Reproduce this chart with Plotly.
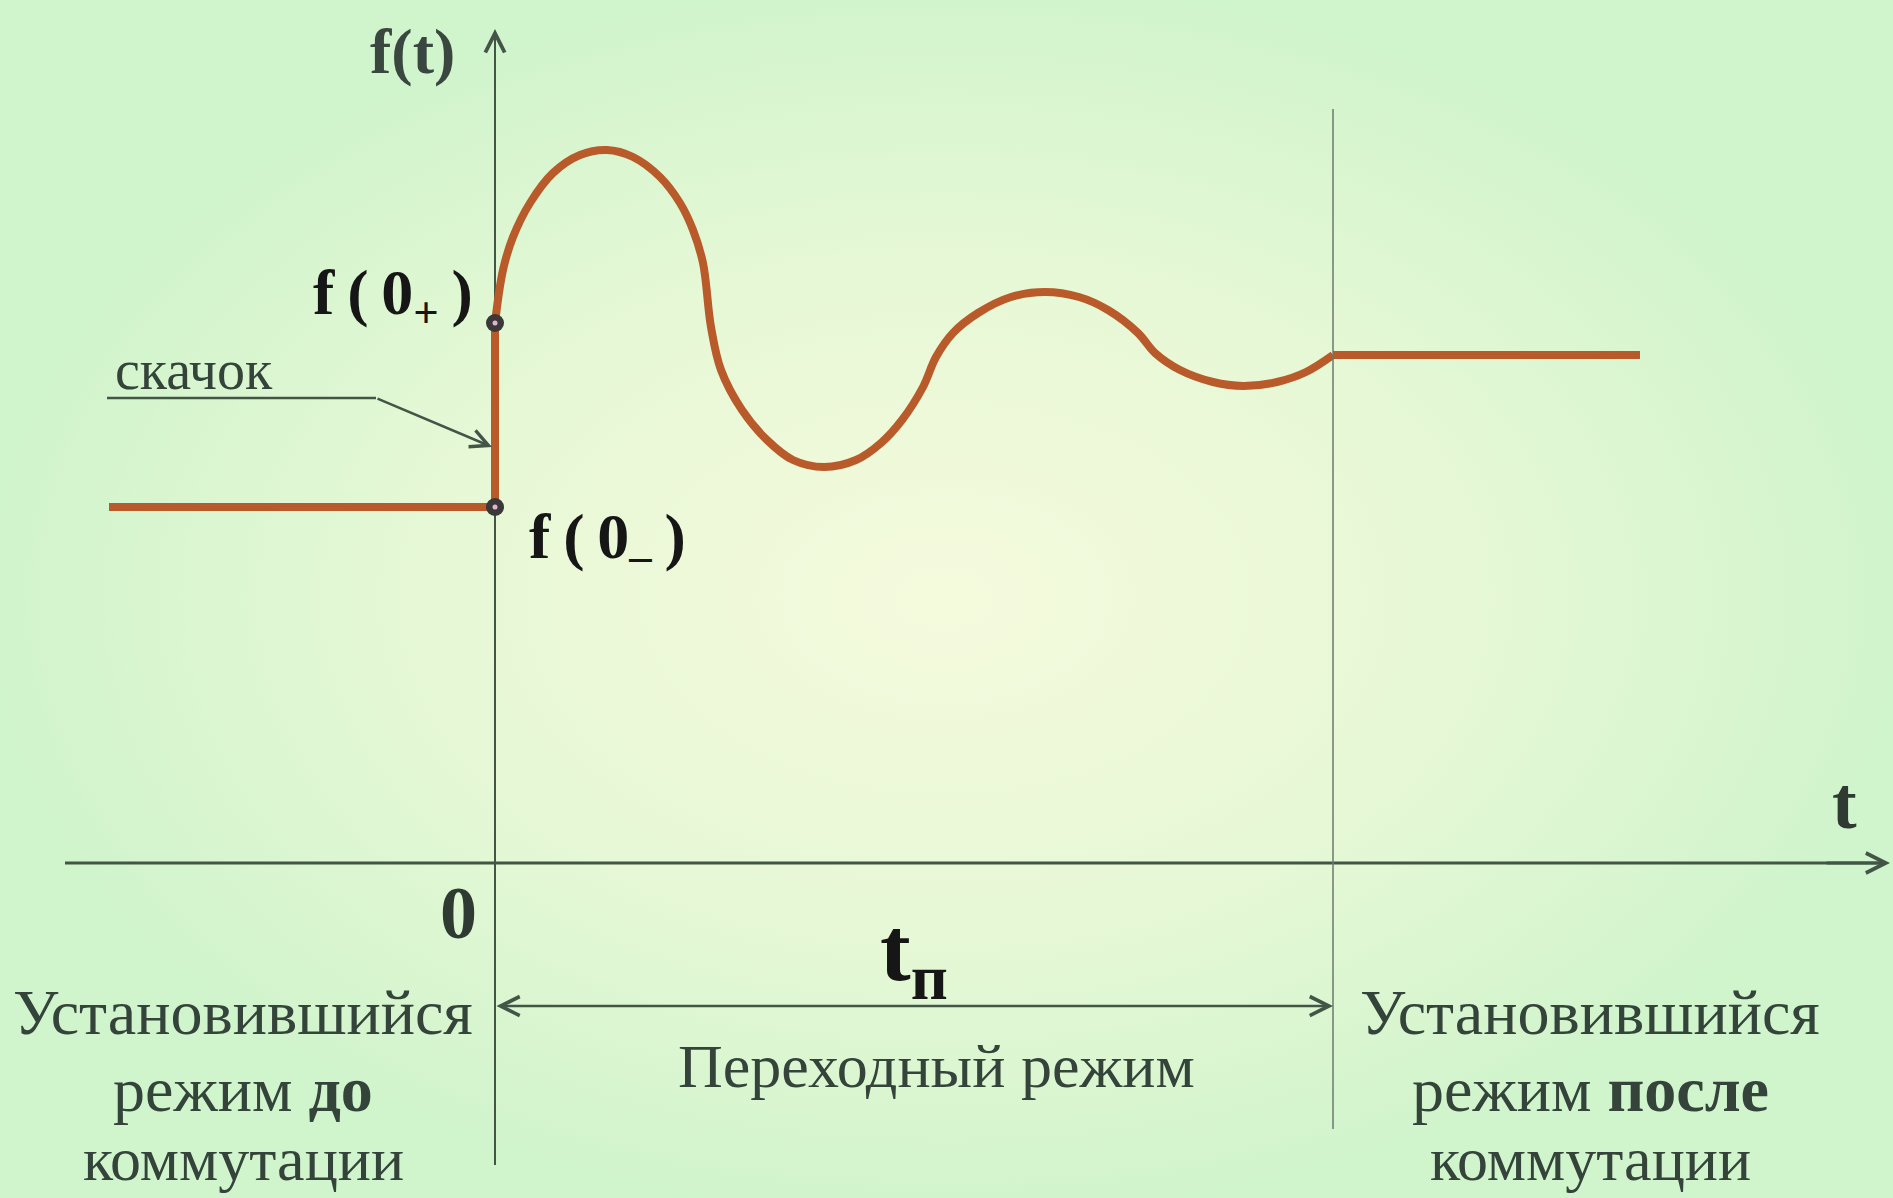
import plotly.graph_objects as go

# transient process f(t): t in arbitrary units (0 = switching moment), f in arbitrary units
t_before = [-3.86, 0.0, 0.0]
f_before = [3.56, 3.56, 5.40]

t_trans = [0.0, 0.08, 0.18, 0.35, 0.58, 0.85, 1.12, 1.38, 1.65, 1.85, 1.98, 2.08, 2.16,
           2.26, 2.47, 2.72, 2.98, 3.29, 3.61, 3.86, 4.07, 4.28, 4.41, 4.58, 4.83, 5.16,
           5.50, 5.84, 6.13, 6.43, 6.60, 6.85, 7.18, 7.48, 7.82, 8.11, 8.38]
f_trans = [5.40, 5.93, 6.26, 6.60, 6.90, 7.08, 7.13, 7.06, 6.86, 6.60, 6.33, 6.00, 5.36,
           4.93, 4.53, 4.23, 4.03, 3.96, 4.03, 4.20, 4.43, 4.76, 5.06, 5.30, 5.50, 5.66,
           5.71, 5.66, 5.53, 5.30, 5.10, 4.93, 4.81, 4.77, 4.81, 4.91, 5.08]

t_after = [8.38, 11.45]
f_after = [5.08, 5.08]

t_jump = [0.0, 0.0]
f_jump = [5.40, 3.56]   # f(0+), f(0-)
t_p = 8.38              # duration of the transient

axis_color = "#435547"
curve_color = "#b95a2b"
text_color = "#34443a"
serif = "Liberation Serif"

fig = go.Figure()

# background with soft radial gradient
fig.add_trace(go.Scatter(
    x=[-5.2, 14.2, 14.2, -5.2, -5.2], y=[-3.6, -3.6, 8.9, 8.9, -3.6],
    mode="lines", line=dict(width=0), fill="toself",
    fillgradient=dict(type="radial", colorscale=[[0, "#f5fadd"], [0.55, "#e6f8d6"], [1, "#d0f4cc"]]),
    hoverinfo="skip", showlegend=False))

# axes
fig.add_trace(go.Scatter(x=[-4.30, 13.85], y=[0, 0], mode="lines",
                         line=dict(color=axis_color, width=3), hoverinfo="skip", showlegend=False))
fig.add_trace(go.Scatter(x=[0, 0], y=[-3.02, 8.25], mode="lines",
                         line=dict(color=axis_color, width=2), hoverinfo="skip", showlegend=False))

# process curve
fig.add_trace(go.Scatter(x=t_before, y=f_before, mode="lines",
                         line=dict(color=curve_color, width=8), showlegend=False))
fig.add_trace(go.Scatter(x=t_trans, y=f_trans, mode="lines",
                         line=dict(color=curve_color, width=8, shape="spline", smoothing=1.0),
                         showlegend=False))
fig.add_trace(go.Scatter(x=t_after, y=f_after, mode="lines",
                         line=dict(color=curve_color, width=8), showlegend=False))

# f(0+) and f(0-) points
fig.add_trace(go.Scatter(x=t_jump, y=f_jump, mode="markers",
                         marker=dict(size=18, color="#3a3838"), showlegend=False))
fig.add_trace(go.Scatter(x=t_jump, y=f_jump, mode="markers",
                         marker=dict(size=5, color="#e0b4cf"), showlegend=False))

# end of transient
fig.add_shape(type="line", x0=t_p, x1=t_p, y0=-2.66, y1=7.54,
              line=dict(color="#6b786e", width=1.5))
# underline of "скачок"
fig.add_shape(type="line", x0=-3.88, x1=-1.19, y0=4.65, y1=4.65,
              line=dict(color=axis_color, width=2.5))

arrows = [
    dict(x=13.95, y=0, ax=13.3, ay=0, arrowwidth=3, arrowsize=1.3),
    dict(x=0, y=8.34, ax=0, ay=7.8, arrowwidth=2, arrowsize=1.9),
    dict(x=-0.03, y=4.16, ax=-1.19, ay=4.65, arrowwidth=2.5, arrowsize=1.4),
    dict(x=t_p, y=-1.43, ax=0, ay=-1.43, arrowwidth=2.5, arrowsize=1.5, arrowside="end+start"),
]
for a in arrows:
    fig.add_annotation(text="", xref="x", yref="y", axref="x", ayref="y",
                       showarrow=True, arrowhead=5, arrowcolor=axis_color, standoff=0,
                       startarrowhead=5, **a)

def label(x, y, text, size, bold=False, color=text_color):
    if bold:
        text = "<b>" + text + "</b>"
    fig.add_annotation(x=x, y=y, xref="x", yref="y", text=text, showarrow=False,
                       font=dict(family=serif, size=size, color=color))

label(-0.83, 8.12, "f(t)", 64, bold=True, color="#3a4640")
label(-1.02, 5.66, "f\u2009(\u20090<sub>+</sub>\u2009)", 64, bold=True, color="#161616")
label(1.12, 3.22, "f\u2009(\u20090<sub>\u2013</sub>\u2009)", 64, bold=True, color="#161616")
label(-3.01, 4.93, "скачок", 56)
label(13.49, 0.60, "t", 74, bold=True, color="#2e3a32")
label(-0.37, -0.50, "0", 74, bold=True, color="#2e3a32")
label(4.19, -0.92, "t<sub>п</sub>", 92, bold=True, color="#161616")
label(4.41, -2.03, "Переходный режим", 62)

label(-2.52, -1.49, "Установившийся", 64)
label(-2.52, -2.26, "режим <b>до</b>", 64)
label(-2.52, -2.96, "коммутации", 62)
label(10.95, -1.49, "Установившийся", 64)
label(10.95, -2.26, "режим <b>после</b>", 64)
label(10.95, -2.96, "коммутации", 62)

fig.update_xaxes(visible=False, range=[-4.95, 13.98])
fig.update_yaxes(visible=False, range=[-3.35, 8.63])
fig.update_layout(width=1893, height=1198, margin=dict(l=0, r=0, t=0, b=0),
                  paper_bgcolor="#d4f6d0", plot_bgcolor="#d4f6d0", showlegend=False)

fig.write_html("out.html", config={"displayModeBar": False},
               post_script="document.body.style.margin='0';")
